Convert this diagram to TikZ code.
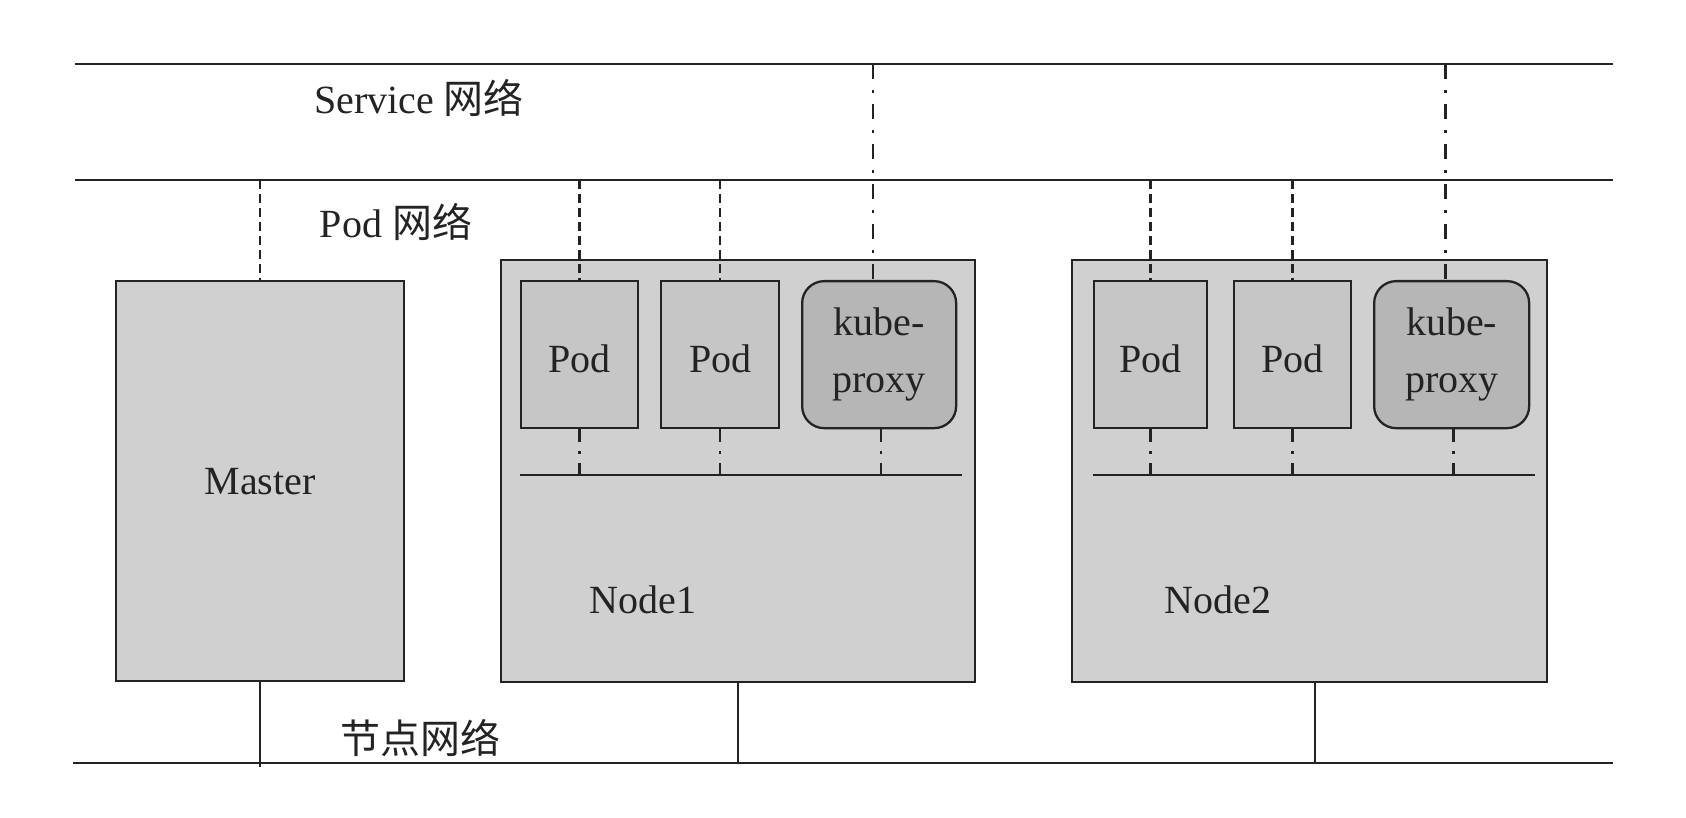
\documentclass[tikz,border=0pt]{standalone}
\usepackage{fontspec}
\setmainfont{Liberation Serif}
\newfontfamily\cjk{Noto Sans CJK SC}
\definecolor{ink}{RGB}{35,35,35}
\definecolor{hostbg}{RGB}{208,208,208}
\definecolor{podbg}{RGB}{198,198,198}
\definecolor{kpbg}{RGB}{182,182,182}
\begin{document}
\begin{tikzpicture}[x=1pt,y=-1pt,
  every node/.style={font=\fontsize{40}{57}\selectfont, text=ink},
  hostbox/.style={draw=ink, fill=hostbg, line width=2.3pt, inner sep=0pt, anchor=north west},
  podbox/.style={draw=ink, fill=podbg, line width=2.3pt, inner sep=0pt, anchor=north west, minimum height=147pt, text height=36pt, text depth=0pt},
  kpbox/.style={draw=ink, fill=kpbg, line width=2.3pt, inner sep=0pt, anchor=north west, minimum height=147pt, rounded corners=22pt, align=center},
  net/.style={draw=ink, line width=2pt},
  podlink/.style={draw=ink, line width=2.6pt, dash pattern=on 9pt off 5pt},
  svclink/.style={draw=ink, line width=2.6pt, dash pattern=on 15pt off 11pt on 3pt off 11pt},
  buslink/.style={draw=ink, line width=2.6pt, dash pattern=on 13pt off 9pt on 3pt off 9pt}]
\useasboundingbox (0,0) rectangle (1686,818);
% network lines
\coordinate (svcL) at (75,64);  \coordinate (svcR) at (1613,64);
\coordinate (podL) at (75,180); \coordinate (podR) at (1613,180);
\coordinate (hostL) at (73,763); \coordinate (hostR) at (1613,763);
\draw[net] (svcL) -- (svcR);
\draw[net] (podL) -- (podR);
\draw[net] (hostL) -- (hostR);
\node (svclbl) at (419,98) {Service {\cjk 网络}};
\node (podlbl) at (396,222) {Pod {\cjk 网络}};
\node (hostlbl) at (420,738) {\cjk 节点网络};
% hosts
\node[hostbox, minimum width=288pt, minimum height=400pt] (master) at (115,280) {Master};
\node[hostbox, minimum width=474pt, minimum height=422pt] (node1) at (500,259) {};
\node (n1lbl) at (643,600) {Node1};
\node[hostbox, minimum width=475pt, minimum height=422pt] (node2) at (1071,259) {};
\node (n2lbl) at (1218,600) {Node2};
% pods node1
\node[podbox, minimum width=117pt] (p11) at (520,280) {Pod};
\node[podbox, minimum width=118pt] (p12) at (660,280) {Pod};
\node[kpbox, minimum width=154pt] (kp1) at (801,280) {kube-\\proxy};
% pods node2
\node[podbox, minimum width=113pt] (p21) at (1093,280) {Pod};
\node[podbox, minimum width=117pt] (p22) at (1233,280) {Pod};
\node[kpbox, minimum width=155pt] (kp2) at (1373,280) {kube-\\proxy};
% buses inside nodes
\coordinate (bus1L) at (520,475); \coordinate (bus1R) at (962,475);
\coordinate (bus2L) at (1093,475); \coordinate (bus2R) at (1535,475);
\draw[net] (bus1L) -- (bus1R);
\draw[net] (bus2L) -- (bus2R);
% pod network links
\draw[podlink] (master.north |- podL) -- (master.north);
\draw[podlink] (p11.north |- podL) -- (p11.north);
\draw[podlink] (p12.north |- podL) -- (p12.north);
\draw[podlink] (p21.north |- podL) -- (p21.north);
\draw[podlink] (p22.north |- podL) -- (p22.north);
% service links
\draw[svclink] ([xshift=-6pt]kp1.north |- svcL) -- ([xshift=-6pt]kp1.north);
\draw[svclink] ([xshift=-6pt]kp2.north |- svcL) -- ([xshift=-6pt]kp2.north);
% bus links
\draw[buslink] (p11.south) -- (p11.south |- bus1L);
\draw[buslink] (p12.south) -- (p12.south |- bus1L);
\draw[buslink] ([xshift=2pt]kp1.south) -- ([xshift=2pt]kp1.south |- bus1L);
\draw[buslink] (p21.south) -- (p21.south |- bus2L);
\draw[buslink] (p22.south) -- (p22.south |- bus2L);
\draw[buslink] ([xshift=2pt]kp2.south) -- ([xshift=2pt]kp2.south |- bus2L);
% host network links
\draw[net] (master.south) -- ([yshift=-4pt]master.south |- hostL);
\draw[net] (node1.south) -- (node1.south |- hostL);
\draw[net] ([xshift=5pt]node2.south) -- ([xshift=5pt]node2.south |- hostL);
\end{tikzpicture}
\end{document}
